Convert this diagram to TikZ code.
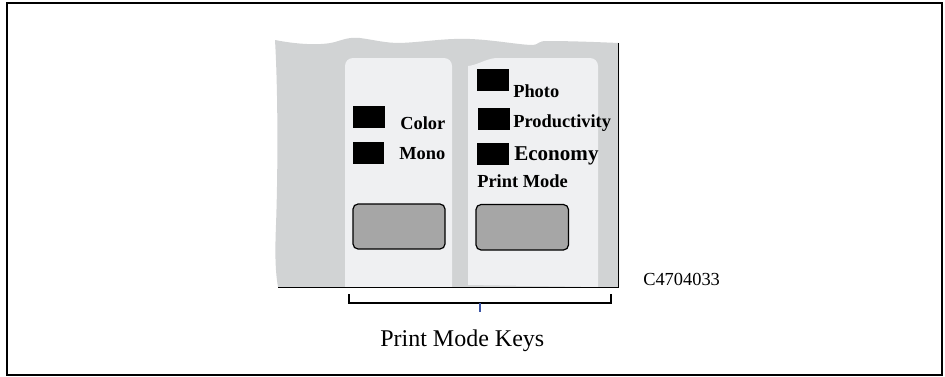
\documentclass[tikz,border=0pt]{standalone}
\usepackage{xcolor}
\usepackage{fontspec}
\setmainfont{Liberation Serif}
\usepackage{tikz}
\definecolor{panelgrey}{HTML}{D1D3D4}
\definecolor{panellight}{HTML}{EFF0F2}
\definecolor{keygrey}{HTML}{A6A6A6}
\definecolor{tickblue}{HTML}{3A53A4}
\tikzset{
	lamp/.style={fill=black,draw=none,inner sep=0pt,minimum height=16.5pt},
	keybox/.style={fill=keygrey,draw=black,line width=.9pt,rounded corners=3.8pt},
	keylabel/.style={anchor=base west,inner sep=0pt,font=\fontsize{13.8}{15}\selectfont\bfseries},
	plainlabel/.style={anchor=base west,inner sep=0pt}
}

\begin{document}
\begin{tikzpicture}[x=.75pt,y=-.75pt]
		\useasboundingbox (0,0) rectangle (945,376);
		\fill[white] (0,0) rectangle (945,376);
		\draw[line width=1.6pt] (7,3) rectangle (942,375);
		\fill[panelgrey] (275,40) .. controls (295,44) and (320,46) .. (335,42)
			.. controls (345,39) and (350,37) .. (360,38)
			.. controls (375,40) and (385,43) .. (400,43)
			.. controls (425,42) and (445,38) .. (470,39)
			.. controls (495,40) and (520,45) .. (533,45)
			.. controls (538,45) and (538,41) .. (546,41)
			.. controls (570,41) and (595,42) .. (619,43)
			-- (619,287) -- (278,287)
			.. controls (275,270) and (275,250) .. (276,225)
			.. controls (278,170) and (278,90) .. (275,40) -- cycle;
		\fill[panellight] (345,287) -- (345,66) arc (180:270:8) -- (444,58) arc (270:360:8) -- (452,287) -- cycle;
		\fill[panellight] (468,285) -- (468,66)
			.. controls (478,65) and (485,59) .. (496,58)
			-- (590,58) arc (270:360:8) -- (598,287) -- (468,285) -- cycle;
		\draw[line width=1.15pt] (618.5,43) -- (618.5,287.5) -- (278,287.5);
		\node[lamp,minimum width=24pt] (colorlamp) at (369,117) {};
		\node[lamp,minimum width=23.25pt] (monolamp) at (368.5,153) {};
		\node[lamp,minimum width=24pt] (photolamp) at (493,80) {};
		\node[lamp,minimum width=24pt] (prodlamp) at (494,119) {};
		\node[lamp,minimum width=24pt] (econlamp) at (493,154) {};
		\node[keylabel] (color) at (400,129) {Color};
		\node[keylabel] (mono) at (399,159) {Mono};
		\node[keylabel] (photo) at (513,97) {Photo};
		\node[keylabel] (prod) at (513,127) {Productivity};
		\node[keylabel,font=\fontsize{15.8}{17}\selectfont\bfseries] (econ) at (514,160) {Economy};
		\node[keylabel] (printmode) at (477,187) {Print Mode};
		\draw[keybox] (353,204) rectangle (445,249);
		\draw[keybox] (476,204.5) rectangle (568.5,250);
		\node[plainlabel,font=\fontsize{13.8}{15}\selectfont] (partno) at (643,285) {C4704033};
		\coordinate (bl) at (349,294);
		\coordinate (br) at (611,294);
		\coordinate (bm) at (480,303);
		\coordinate (bt) at (480,312);
		\draw[line width=.8pt] (bl) |- (bm) -| (br);
		\draw[tickblue,line width=.8pt] (bm) -- (bt);
		\node[plainlabel,font=\fontsize{18}{20}\selectfont] (keys) at (380,346) {Print Mode Keys};
	\end{tikzpicture}
\end{document}
